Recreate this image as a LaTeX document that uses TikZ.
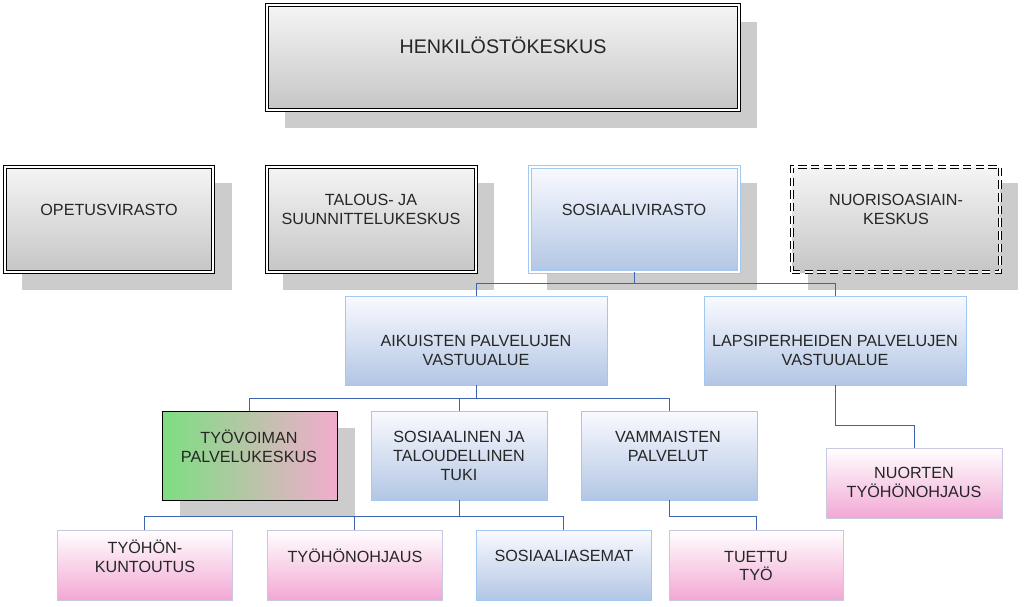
\documentclass[tikz,border=0pt]{standalone}
\usepackage{fontspec}
\setmainfont{Liberation Sans}
\begin{document}
\begin{tikzpicture}[x=0.025cm,y=-0.025cm,
  grayb/.style={top color=gray!8,bottom color=gray!45,draw=black,line width=0.7pt,double=white,double distance=1.6pt},
  dashb/.style={grayb,line width=0.9pt,dash pattern=on 6pt off 3pt},
  blueb/.style={top color=blue!2,bottom color={rgb,255:red,178;green,198;blue,228},draw={rgb,255:red,160;green,200;blue,240},line width=0.6pt},
  blued/.style={blueb,double=white,double distance=1.4pt,line width=0.6pt},
  pinkb/.style={top color=white,bottom color={rgb,255:red,242;green,168;blue,212},draw={rgb,255:red,200;green,200;blue,225},line width=0.6pt},
  greenb/.style={left color={rgb,255:red,125;green,222;blue,130},right color={rgb,255:red,242;green,172;blue,205},draw=black,line width=0.7pt},
  shad/.style={fill=gray!40,draw=none},
  lbl/.style={font=\fontsize{11.5}{13.5}\selectfont,align=center,text=black!85},
  conn/.style={draw={rgb,255:red,60;green,100;blue,175},line width=0.7pt}]
\useasboundingbox (0,0) rectangle (1024,606);
\newcommand\bx[6]{\node[#6,minimum width={(#4-#2)*0.025cm},minimum height={(#5-#3)*0.025cm},inner sep=0pt] (#1) at ({(#2+#4)/2},{(#3+#5)/2}) {};}
\newcommand\sh[4]{\fill[shad] (#1,#2) rectangle (#3,#4);}
% shadows
\sh{285}{22}{757}{128}
\sh{22}{183}{232}{290}
\sh{283}{183}{494}{290}
\sh{547}{183}{757}{290}
\sh{808}{183}{1018}{290}
\sh{180}{428}{355}{517}
% boxes
\bx{hk}{267}{5}{739}{110}{grayb}
\bx{op}{5}{167}{213}{272}{grayb}
\bx{ta}{267}{167}{476}{272}{grayb}
\bx{so}{530}{167}{739}{272}{blued}
\bx{nu}{792}{167}{1000}{272}{dashb}
\bx{ai}{345}{296}{607}{385}{blueb}
\bx{la}{704}{296}{966}{385}{blueb}
\bx{ty}{162}{411}{337}{500}{greenb}
\bx{st}{371}{411}{547}{500}{blueb}
\bx{va}{581}{411}{757}{500}{blueb}
\bx{no}{826}{448}{1002}{518}{pinkb}
\bx{tk}{57}{530}{232}{600}{pinkb}
\bx{to}{267}{530}{442}{600}{pinkb}
\bx{sa}{476}{530}{651}{600}{blueb}
\bx{tt}{669}{530}{843}{600}{pinkb}
% labels
\node[lbl,font=\fontsize{14}{16}\selectfont] at (503,45) {HENKILÖSTÖKESKUS};
\node[lbl] at (109,210) {OPETUSVIRASTO};
\node[lbl] at (371,209) {TALOUS- JA\\SUUNNITTELUKESKUS};
\node[lbl] at (634,210) {SOSIAALIVIRASTO};
\node[lbl] at (896,209) {NUORISOASIAIN-\\KESKUS};
\node[lbl] at (476,350) {AIKUISTEN PALVELUJEN\\VASTUUALUE};
\node[lbl] at (835,350) {LAPSIPERHEIDEN PALVELUJEN\\VASTUUALUE};
\node[lbl] at (249,446) {TYÖVOIMAN\\PALVELUKESKUS};
\node[lbl] at (459,456) {SOSIAALINEN JA\\TALOUDELLINEN\\TUKI};
\node[lbl] at (668,446) {VAMMAISTEN\\PALVELUT};
\node[lbl] at (914,482) {NUORTEN\\TYÖHÖNOHJAUS};
\node[lbl] at (145,556) {TYÖHÖN-\\KUNTOUTUS};
\node[lbl] at (355,556) {TYÖHÖNOHJAUS};
\node[lbl] at (564,556) {SOSIAALIASEMAT};
\node[lbl] at (756,566) {TUETTU\\TYÖ};
% connectors
\draw[conn] (so.south) -- ++(0,11) -| (ai.north);
\draw[conn] (so.south) -- ++(0,11) -| (la.north);
\draw[conn] (ai.south) -- ++(0,13) -| (ty.north);
\draw[conn] (ai.south) -- ++(0,13) -| (st.north);
\draw[conn] (ai.south) -- ++(0,13) -| (va.north);
\draw[conn] (la.south) -- ++(0,40) -| (no.north);
\draw[conn] (st.south) -- ++(0,16) -| (tk.north);
\draw[conn] (st.south) -- ++(0,16) -| (to.north);
\draw[conn] (st.south) -- ++(0,16) -| (sa.north);
\draw[conn] (va.south) -- ++(0,16) -| (tt.north);
\end{tikzpicture}
\end{document}
